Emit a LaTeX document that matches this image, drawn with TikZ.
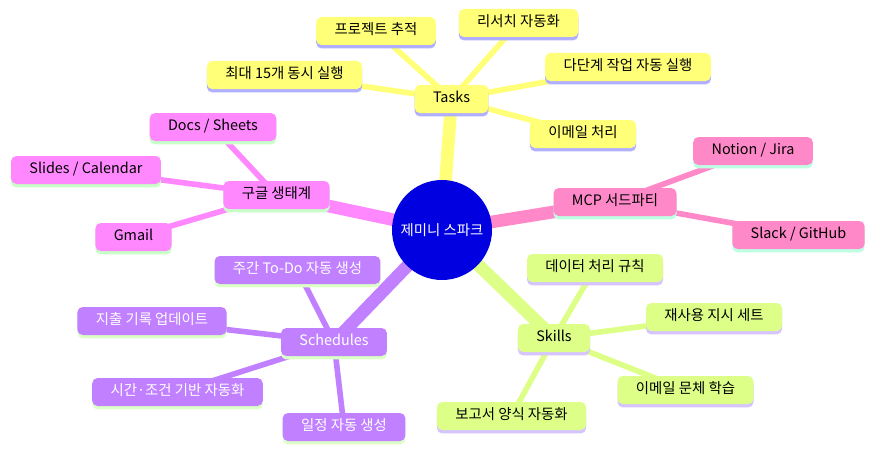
\documentclass[tikz,border=0pt]{standalone}
\usepackage{fontspec}
\setmainfont{Noto Sans CJK KR}
\usetikzlibrary{backgrounds}
% mind map colours
\definecolor{rootBlue}{RGB}{0,0,224}
\definecolor{taskFill}{RGB}{255,255,120}
\definecolor{taskLine}{RGB}{176,176,255}
\definecolor{googFill}{RGB}{255,136,255}
\definecolor{googLine}{RGB}{200,255,200}
\definecolor{mcpFill}{RGB}{255,136,200}
\definecolor{mcpLine}{RGB}{190,255,228}
\definecolor{schedFill}{RGB}{192,128,255}
\definecolor{schedLine}{RGB}{220,255,200}
\definecolor{skillFill}{RGB}{221,255,136}
\definecolor{skillLine}{RGB}{214,196,255}
\tikzset{
  mmbox/.style={rounded corners=4pt, minimum height=21pt, inner xsep=13.8pt,
    inner ysep=0pt, text height=8pt, text depth=2.3pt,
    font=\fontsize{10.8pt}{13pt}\selectfont},
  taskbox/.style={mmbox, fill=taskFill,
    preaction={fill=taskLine, transform canvas={yshift=-2.6pt}}},
  googbox/.style={mmbox, fill=googFill,
    preaction={fill=googLine, transform canvas={yshift=-2.6pt}}},
  mcpbox/.style={mmbox, fill=mcpFill,
    preaction={fill=mcpLine, transform canvas={yshift=-2.6pt}}},
  schedbox/.style={mmbox, fill=schedFill, text=white,
    preaction={fill=schedLine, transform canvas={yshift=-2.6pt}}},
  skillbox/.style={mmbox, fill=skillFill,
    preaction={fill=skillLine, transform canvas={yshift=-2.6pt}}},
  mainedge/.style={line width=9.5pt},
  subedge/.style={line width=4.2pt},
}
\begin{document}
\begin{tikzpicture}
% one unit = one pixel of the mind map
\def\pxsz{0.75pt}
\begin{scope}[x=\pxsz, y=-\pxsz]
  \useasboundingbox (0,0) rectangle (884,460);
  % Root
  \node[circle, fill=rootBlue, minimum size=75pt, text=white,
    font=\fontsize{10.8pt}{13pt}\selectfont] (root) at (442,230) {제미니 스파크};
  % Tasks
  \node[taskbox] (tasks) at (451.5,99) {Tasks};
  \node[taskbox] (track) at (376,31) {프로젝트 추적};
  \node[taskbox] (research) at (518.5,23) {리서치 자동화};
  \node[taskbox] (parallel) at (284.5,75) {최대 15개 동시 실행};
  \node[taskbox] (multistep) at (628,67) {다단계 작업 자동 실행};
  \node[taskbox] (mail) at (583,134) {이메일 처리};
  % Google
  \node[googbox] (google) at (276.5,195) {구글 생태계};
  \node[googbox] (docs) at (213,127) {Docs / Sheets};
  \node[googbox] (slides) at (86,170) {Slides / Calendar};
  \node[googbox] (gmail) at (133.5,237) {Gmail};
  % MCP
  \node[mcpbox] (mcp) at (615,202) {MCP 서드파티};
  \node[mcpbox] (notion) at (753,151) {Notion / Jira};
  \node[mcpbox] (slack) at (798.5,235) {Slack / GitHub};
  % Schedules
  \node[schedbox] (sched) at (334,342) {Schedules};
  \node[schedbox] (todo) at (297.5,270) {주간 To-Do 자동 생성};
  \node[schedbox] (expense) at (152,321) {지출 기록 업데이트};
  \node[schedbox] (trigger) at (177.5,392) {시간·조건 기반 자동화};
  \node[schedbox] (calendar) at (344,427) {일정 자동 생성};
  % Skills
  \node[skillbox] (skills) at (554,338) {Skills};
  \node[skillbox] (rules) at (595,268) {데이터 처리 규칙};
  \node[skillbox] (reuse) at (714,317) {재사용 지시 세트};
  \node[skillbox] (style) at (685.5,390) {이메일 문체 학습};
  \node[skillbox] (report) at (511.5,416) {보고서 양식 자동화};
  % Connectors behind the boxes
  \begin{pgfonlayer}{background}
    \draw[mainedge, taskFill] (root.center) -- (tasks.center);
    \draw[mainedge, googFill] (root.center) -- (google.center);
    \draw[mainedge, mcpFill] (root.center) -- (mcp.center);
    \draw[mainedge, schedFill] (root.center) -- (sched.center);
    \draw[mainedge, skillFill] (root.center) -- (skills.center);
    \foreach \leaf in {track, research, parallel, multistep, mail}
      \draw[subedge, taskFill] (tasks.center) -- (\leaf.center);
    \foreach \leaf in {docs, slides, gmail}
      \draw[subedge, googFill] (google.center) -- (\leaf.center);
    \foreach \leaf in {notion, slack}
      \draw[subedge, mcpFill] (mcp.center) -- (\leaf.center);
    \foreach \leaf in {todo, expense, trigger, calendar}
      \draw[subedge, schedFill] (sched.center) -- (\leaf.center);
    \foreach \leaf in {rules, reuse, style, report}
      \draw[subedge, skillFill] (skills.center) -- (\leaf.center);
  \end{pgfonlayer}
\end{scope}
\end{tikzpicture}
\end{document}
